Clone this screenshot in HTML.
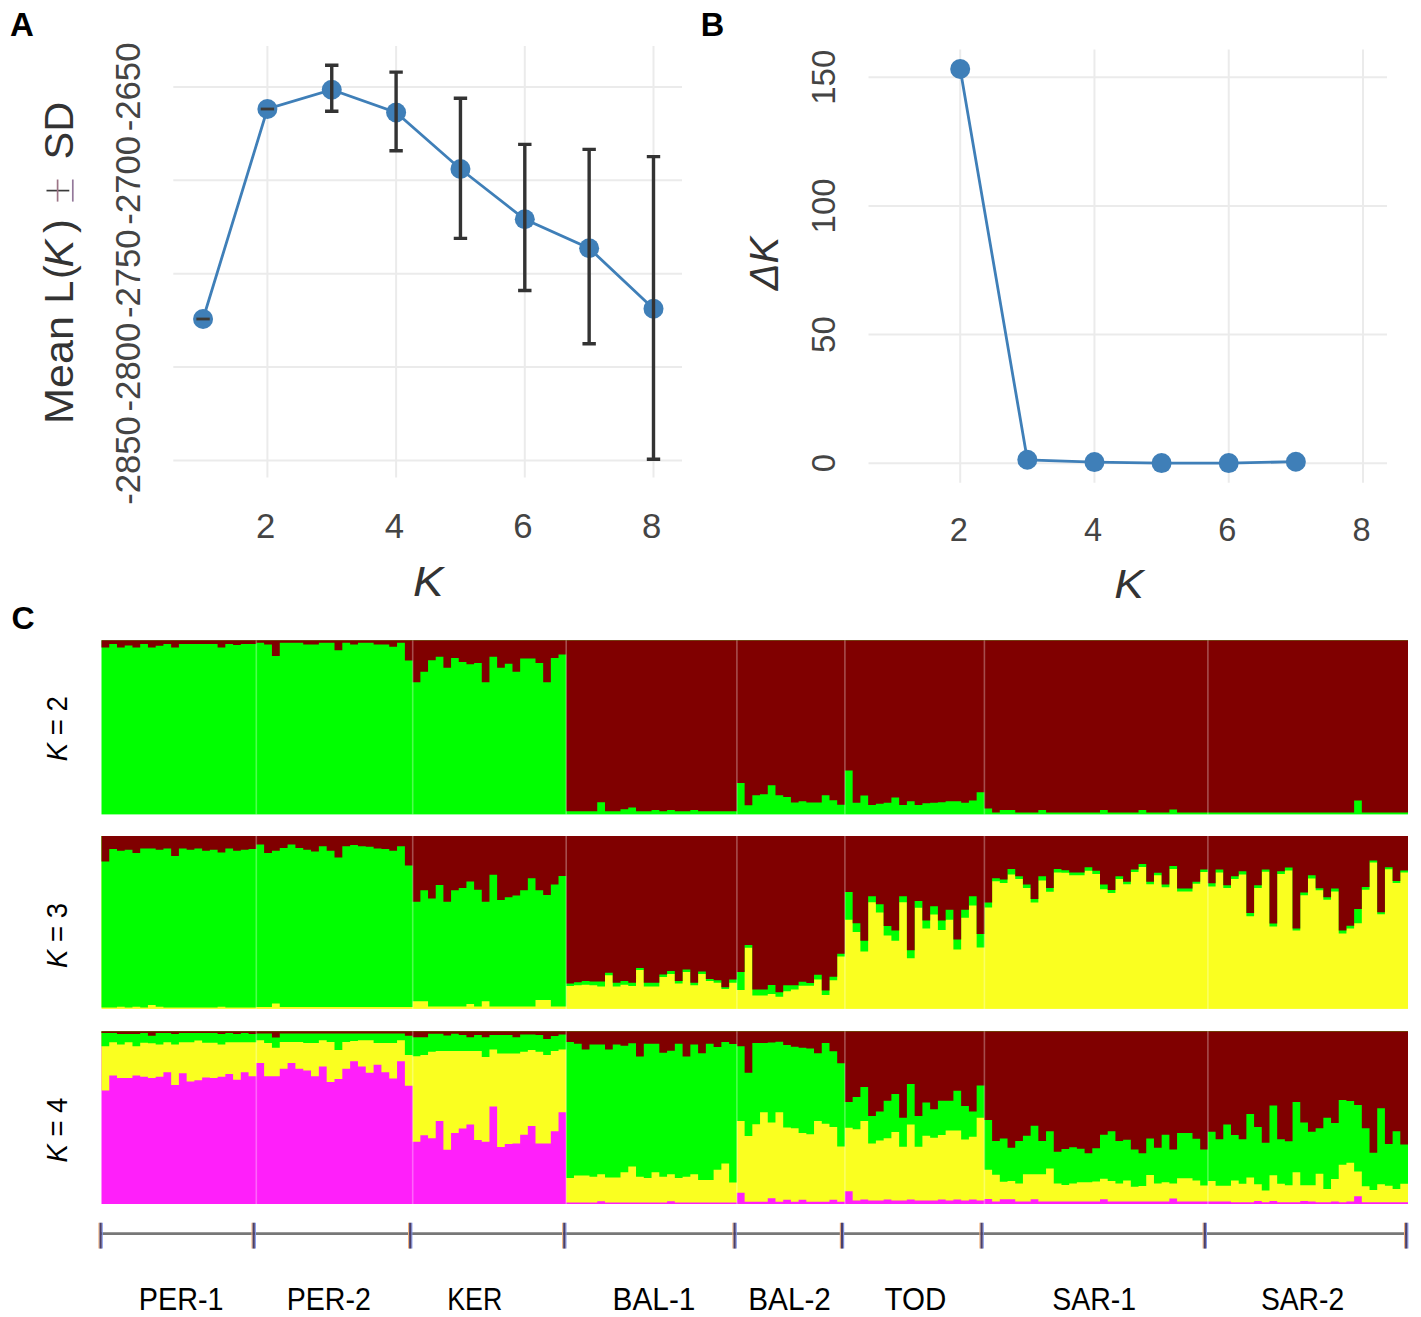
<!DOCTYPE html>
<html><head><meta charset="utf-8"><style>
html,body{margin:0;padding:0;background:#fff;}
body{width:1421px;height:1317px;overflow:hidden;font-family:"Liberation Sans",sans-serif;}
svg{display:block;}
</style></head><body>
<svg width="1421" height="1317" viewBox="0 0 1421 1317">
<rect width="1421" height="1317" fill="#fff"/>
<g font-family="Liberation Sans, sans-serif">
<text x="10" y="36.3" font-size="33" font-weight="bold" fill="#000">A</text>
<line x1="173.3" x2="682" y1="86.9" y2="86.9" stroke="#ebebeb" stroke-width="2"/>
<line x1="173.3" x2="682" y1="180.3" y2="180.3" stroke="#ebebeb" stroke-width="2"/>
<line x1="173.3" x2="682" y1="273.7" y2="273.7" stroke="#ebebeb" stroke-width="2"/>
<line x1="173.3" x2="682" y1="367.1" y2="367.1" stroke="#ebebeb" stroke-width="2"/>
<line x1="173.3" x2="682" y1="460.5" y2="460.5" stroke="#ebebeb" stroke-width="2"/>
<line x1="267.40" x2="267.40" y1="46" y2="477.5" stroke="#ebebeb" stroke-width="2"/>
<line x1="396.10" x2="396.10" y1="46" y2="477.5" stroke="#ebebeb" stroke-width="2"/>
<line x1="524.80" x2="524.80" y1="46" y2="477.5" stroke="#ebebeb" stroke-width="2"/>
<line x1="653.50" x2="653.50" y1="46" y2="477.5" stroke="#ebebeb" stroke-width="2"/>
<polyline fill="none" stroke="#3f7fb8" stroke-width="2.8" points="203.05,319 267.40,109 331.75,89.7 396.10,112.5 460.45,169 524.80,219.3 589.15,248.2 653.50,308.8"/>
<circle cx="203.05" cy="319" r="10" fill="#3f7fb8"/>
<circle cx="267.40" cy="109" r="10" fill="#3f7fb8"/>
<circle cx="331.75" cy="89.7" r="10" fill="#3f7fb8"/>
<circle cx="396.10" cy="112.5" r="10" fill="#3f7fb8"/>
<circle cx="460.45" cy="169" r="10" fill="#3f7fb8"/>
<circle cx="524.80" cy="219.3" r="10" fill="#3f7fb8"/>
<circle cx="589.15" cy="248.2" r="10" fill="#3f7fb8"/>
<circle cx="653.50" cy="308.8" r="10" fill="#3f7fb8"/>
<path d="M196.35,319H209.75" stroke="#3d3a36" stroke-width="2.8" fill="none"/>
<path d="M260.70,109H274.10" stroke="#3d3a36" stroke-width="2.8" fill="none"/>
<path d="M325.05,65.2H338.45M331.75,65.2V111.3M325.05,111.3H338.45" stroke="#333" stroke-width="3.4" fill="none"/>
<path d="M389.40,72.1H402.80M396.10,72.1V150.7M389.40,150.7H402.80" stroke="#333" stroke-width="3.4" fill="none"/>
<path d="M453.75,98.3H467.15M460.45,98.3V238.4M453.75,238.4H467.15" stroke="#333" stroke-width="3.4" fill="none"/>
<path d="M518.10,144.4H531.50M524.80,144.4V290.5M518.10,290.5H531.50" stroke="#333" stroke-width="3.4" fill="none"/>
<path d="M582.45,149.4H595.85M589.15,149.4V343.8M582.45,343.8H595.85" stroke="#333" stroke-width="3.4" fill="none"/>
<path d="M646.80,156.6H660.20M653.50,156.6V459.3M646.80,459.3H660.20" stroke="#333" stroke-width="3.4" fill="none"/>
<text x="265.60" y="538.4" font-size="34.7" fill="#444444" text-anchor="middle">2</text>
<text x="394.30" y="538.4" font-size="34.7" fill="#444444" text-anchor="middle">4</text>
<text x="523.00" y="538.4" font-size="34.7" fill="#444444" text-anchor="middle">6</text>
<text x="651.70" y="538.4" font-size="34.7" fill="#444444" text-anchor="middle">8</text>
<text transform="translate(139.7,86.9) rotate(-90)" font-size="34.7" fill="#444444" text-anchor="middle">-2650</text>
<text transform="translate(139.7,180.3) rotate(-90)" font-size="34.7" fill="#444444" text-anchor="middle">-2700</text>
<text transform="translate(139.7,273.7) rotate(-90)" font-size="34.7" fill="#444444" text-anchor="middle">-2750</text>
<text transform="translate(139.7,367.1) rotate(-90)" font-size="34.7" fill="#444444" text-anchor="middle">-2800</text>
<text transform="translate(139.7,460.5) rotate(-90)" font-size="34.7" fill="#444444" text-anchor="middle">-2850</text>
<text x="412.9" y="595.6" font-size="42.5" font-style="italic" fill="#333333" textLength="30.5" lengthAdjust="spacingAndGlyphs">K</text>
<text transform="translate(73.3,423.9) rotate(-90)" font-size="41.5" fill="#333333" textLength="107.9" lengthAdjust="spacingAndGlyphs">Mean</text>
<text transform="translate(73.3,303.7) rotate(-90)" font-size="41.5" fill="#333333">L</text>
<text transform="translate(73.3,279.0) rotate(-90)" font-size="41.5" fill="#333333">(</text>
<text transform="translate(73.3,267.6) rotate(-90)" font-size="41.5" fill="#333333" font-style="italic">K</text>
<text transform="translate(73.3,233.1) rotate(-90)" font-size="41.5" fill="#333333">)</text>
<path d="M46.5,190.6H69.3" stroke="#3a3a3a" stroke-width="1.7"/>
<path d="M57.6,179.5V201.6" stroke="#9c7486" stroke-width="1.7"/>
<path d="M72.8,179.5V201.6" stroke="#94789a" stroke-width="1.7"/>
<text transform="translate(73.3,159.5) rotate(-90)" font-size="41.5" fill="#333333">SD</text>
<text x="700.8" y="35.7" font-size="32.5" font-weight="bold" fill="#000">B</text>
<line x1="868.5" x2="1387" y1="463.20" y2="463.20" stroke="#ebebeb" stroke-width="2"/>
<line x1="868.5" x2="1387" y1="334.55" y2="334.55" stroke="#ebebeb" stroke-width="2"/>
<line x1="868.5" x2="1387" y1="205.90" y2="205.90" stroke="#ebebeb" stroke-width="2"/>
<line x1="868.5" x2="1387" y1="77.25" y2="77.25" stroke="#ebebeb" stroke-width="2"/>
<line x1="960.20" x2="960.20" y1="49.5" y2="482.8" stroke="#ebebeb" stroke-width="2"/>
<line x1="1094.46" x2="1094.46" y1="49.5" y2="482.8" stroke="#ebebeb" stroke-width="2"/>
<line x1="1228.72" x2="1228.72" y1="49.5" y2="482.8" stroke="#ebebeb" stroke-width="2"/>
<line x1="1362.98" x2="1362.98" y1="49.5" y2="482.8" stroke="#ebebeb" stroke-width="2"/>
<polyline fill="none" stroke="#3f7fb8" stroke-width="2.8" points="960.20,69 1027.33,459.8 1094.46,462.1 1161.59,463.1 1228.72,463.1 1295.85,461.7"/>
<circle cx="960.20" cy="69" r="10" fill="#3f7fb8"/>
<circle cx="1027.33" cy="459.8" r="10" fill="#3f7fb8"/>
<circle cx="1094.46" cy="462.1" r="10" fill="#3f7fb8"/>
<circle cx="1161.59" cy="463.1" r="10" fill="#3f7fb8"/>
<circle cx="1228.72" cy="463.1" r="10" fill="#3f7fb8"/>
<circle cx="1295.85" cy="461.7" r="10" fill="#3f7fb8"/>
<text x="958.70" y="541.2" font-size="32.5" fill="#444444" text-anchor="middle">2</text>
<text x="1092.96" y="541.2" font-size="32.5" fill="#444444" text-anchor="middle">4</text>
<text x="1227.22" y="541.2" font-size="32.5" fill="#444444" text-anchor="middle">6</text>
<text x="1361.48" y="541.2" font-size="32.5" fill="#444444" text-anchor="middle">8</text>
<text transform="translate(835,463.20) rotate(-90)" font-size="33" fill="#444444" text-anchor="middle">0</text>
<text transform="translate(835,334.55) rotate(-90)" font-size="33" fill="#444444" text-anchor="middle">50</text>
<text transform="translate(835,205.90) rotate(-90)" font-size="33" fill="#444444" text-anchor="middle">100</text>
<text transform="translate(835,77.25) rotate(-90)" font-size="33" fill="#444444" text-anchor="middle">150</text>
<text x="1114.2" y="597.9" font-size="41.5" font-style="italic" fill="#333333" textLength="29.6" lengthAdjust="spacingAndGlyphs">K</text>
<text transform="translate(778.3,290.3) rotate(-90)" font-size="40" font-style="italic" fill="#333333">ΔK</text>
</g>
<g font-family="Liberation Sans, sans-serif">
<text x="11.5" y="628.9" font-size="32" font-weight="bold" fill="#000">C</text>
<rect x="101.5" y="640.3" width="1306.50" height="174.10" fill="#00ff00"/>
<path d="M101.50,640.3V647.40H109.24V644.00H116.98V647.40H124.72V645.50H132.46V647.40H140.20V644.00H147.94V647.40H155.68V645.70H163.42V644.00H171.16V647.40H178.90V644.00H186.64V644.00H194.38V644.00H202.12V644.00H209.86V644.00H217.60V647.40H225.34V644.00H233.08V645.00H240.82V644.00H248.56V644.00H256.30V642.80H264.12V644.50H271.94V656.00H279.76V642.80H287.58V642.80H295.40V642.80H303.22V644.50H311.04V644.50H318.86V642.80H326.68V642.80H334.50V650.20H342.32V642.80H350.14V644.50H357.96V642.80H365.78V642.80H373.60V644.50H381.42V644.50H389.24V646.80H397.06V642.80H404.88V660.50H412.70V682.20H420.38V671.80H428.05V660.20H435.73V656.80H443.40V667.70H451.07V657.90H458.75V662.00H466.43V664.30H474.10V663.10H481.77V682.20H489.45V656.80H497.12V667.70H504.80V663.70H512.48V671.80H520.15V658.50H527.83V658.50H535.50V663.10H543.18V682.20H550.85V657.90H558.53V654.50H566.20V811.20H573.96V811.20H581.72V811.20H589.48V811.20H597.24V802.30H605.00V811.20H612.75V811.20H620.51V809.30H628.27V807.40H636.03V811.20H643.79V811.20H651.55V810.00H659.31V811.20H667.07V810.00H674.83V811.20H682.59V811.20H690.35V810.00H698.10V811.20H705.86V811.20H713.62V811.20H721.38V811.20H729.14V811.20H736.90V782.90H744.61V805.30H752.33V795.20H760.04V794.30H767.76V785.20H775.47V795.20H783.19V797.00H790.90V802.50H798.61V801.20H806.33V802.50H814.04V802.50H821.76V795.20H829.47V800.30H837.19V804.80H844.90V770.50H852.65V802.80H860.40V795.40H868.15V804.90H875.90V803.80H883.65V802.80H891.40V797.50H899.15V804.90H906.90V801.20H914.65V804.90H922.40V803.30H930.15V802.80H937.90V802.20H945.65V801.20H953.40V801.20H961.15V802.80H968.90V800.60H976.65V792.20H984.40V808.60H992.11V812.40H999.81V810.00H1007.52V810.00H1015.23V812.40H1022.93V812.40H1030.64V812.40H1038.35V810.00H1046.06V812.40H1053.76V812.40H1061.47V812.40H1069.18V812.40H1076.88V812.40H1084.59V812.40H1092.30V812.40H1100.00V810.00H1107.71V812.40H1115.42V812.40H1123.12V812.40H1130.83V812.40H1138.54V810.00H1146.24V812.40H1153.95V812.40H1161.66V812.40H1169.37V809.50H1177.07V812.40H1184.78V812.40H1192.49V812.40H1200.19V812.40H1207.90V812.40H1215.60V812.40H1223.29V812.40H1230.99V812.40H1238.68V812.40H1246.38V812.40H1254.08V812.40H1261.77V812.40H1269.47V812.40H1277.17V812.40H1284.86V812.40H1292.56V812.40H1300.25V812.40H1307.95V812.40H1315.65V812.40H1323.34V812.40H1331.04V812.40H1338.73V812.40H1346.43V812.40H1354.13V800.50H1361.82V812.40H1369.52V812.40H1377.22V812.40H1384.91V812.40H1392.61V812.40H1400.30V812.40H1408.00V640.3Z" fill="#800000"/>
<line x1="256.3" x2="256.3" y1="640.3" y2="814.4" stroke="#fff" stroke-opacity="0.3" stroke-width="1.6"/>
<line x1="412.7" x2="412.7" y1="640.3" y2="814.4" stroke="#fff" stroke-opacity="0.3" stroke-width="1.6"/>
<line x1="566.2" x2="566.2" y1="640.3" y2="814.4" stroke="#fff" stroke-opacity="0.3" stroke-width="1.6"/>
<line x1="736.9" x2="736.9" y1="640.3" y2="814.4" stroke="#fff" stroke-opacity="0.3" stroke-width="1.6"/>
<line x1="844.9" x2="844.9" y1="640.3" y2="814.4" stroke="#fff" stroke-opacity="0.3" stroke-width="1.6"/>
<line x1="984.4" x2="984.4" y1="640.3" y2="814.4" stroke="#fff" stroke-opacity="0.3" stroke-width="1.6"/>
<line x1="1207.9" x2="1207.9" y1="640.3" y2="814.4" stroke="#fff" stroke-opacity="0.3" stroke-width="1.6"/>
<rect x="101.5" y="836.0" width="1306.50" height="172.90" fill="#faff20"/>
<path d="M101.50,836.0V1007.60H109.24V1007.60H116.98V1006.70H124.72V1007.60H132.46V1006.70H140.20V1007.60H147.94V1005.00H155.68V1006.70H163.42V1007.60H171.16V1007.60H178.90V1007.60H186.64V1007.60H194.38V1007.60H202.12V1007.60H209.86V1007.60H217.60V1006.70H225.34V1007.60H233.08V1007.60H240.82V1007.60H248.56V1007.60H256.30V1007.10H264.12V1007.10H271.94V1003.40H279.76V1007.10H287.58V1007.10H295.40V1007.10H303.22V1007.10H311.04V1007.10H318.86V1007.10H326.68V1007.10H334.50V1007.10H342.32V1007.10H350.14V1007.10H357.96V1007.10H365.78V1007.10H373.60V1007.10H381.42V1007.10H389.24V1007.10H397.06V1007.10H404.88V1007.10H412.70V1001.20H420.38V1001.20H428.05V1006.60H435.73V1006.60H443.40V1006.60H451.07V1006.60H458.75V1006.60H466.43V1003.90H474.10V1006.60H481.77V1001.20H489.45V1006.60H497.12V1006.60H504.80V1006.60H512.48V1006.60H520.15V1006.60H527.83V1006.60H535.50V1000.00H543.18V1000.00H550.85V1006.60H558.53V1006.60H566.20V986.00H573.96V985.30H581.72V984.70H589.48V985.30H597.24V986.60H605.00V975.20H612.75V986.60H620.51V984.70H628.27V986.00H636.03V970.10H643.79V986.60H651.55V986.60H659.31V977.10H667.07V973.90H674.83V983.40H682.59V972.00H690.35V985.30H698.10V973.90H705.86V980.90H713.62V982.80H721.38V989.10H729.14V982.80H736.90V989.90H744.61V947.80H752.33V995.40H760.04V995.40H767.76V994.00H775.47V996.80H783.19V991.30H790.90V989.50H798.61V985.80H806.33V985.80H814.04V979.40H821.76V995.00H829.47V980.30H837.19V956.50H844.90V919.80H852.65V932.00H860.40V951.60H868.15V902.30H875.90V912.40H883.65V935.40H891.40V940.80H899.15V902.30H906.90V958.30H914.65V907.70H922.40V928.60H930.15V914.40H937.90V930.00H945.65V919.80H953.40V949.60H961.15V917.80H968.90V905.60H976.65V947.50H984.40V907.40H992.11V881.20H999.81V882.90H1007.52V874.50H1015.23V879.10H1022.93V888.00H1030.64V902.40H1038.35V880.40H1046.06V891.80H1053.76V872.40H1061.47V872.80H1069.18V875.30H1076.88V875.30H1084.59V870.70H1092.30V874.10H1100.00V889.30H1107.71V893.10H1115.42V879.10H1123.12V884.20H1130.83V872.00H1138.54V866.90H1146.24V884.20H1153.95V875.30H1161.66V887.20H1169.37V869.00H1177.07V891.40H1184.78V891.40H1192.49V883.80H1200.19V872.00H1207.90V886.40H1215.60V872.40H1223.29V887.90H1230.99V879.00H1238.68V874.40H1246.38V916.20H1254.08V887.90H1261.77V871.70H1269.47V926.60H1277.17V874.00H1284.86V870.50H1292.56V930.50H1300.25V895.30H1307.95V878.40H1315.65V890.20H1323.34V899.70H1331.04V891.40H1338.73V933.50H1346.43V928.40H1354.13V923.30H1361.82V889.80H1369.52V862.60H1377.22V914.20H1384.91V869.30H1392.61V883.10H1400.30V872.50H1408.00V836.0Z" fill="#00ff00"/>
<path d="M101.50,836.0V861.60H109.24V849.10H116.98V850.80H124.72V849.70H132.46V853.10H140.20V848.50H147.94V848.50H155.68V849.70H163.42V848.50H171.16V855.90H178.90V848.50H186.64V849.70H194.38V848.50H202.12V850.80H209.86V849.70H217.60V852.50H225.34V848.50H233.08V850.80H240.82V849.70H248.56V849.10H256.30V844.50H264.12V853.10H271.94V850.80H279.76V848.00H287.58V844.50H295.40V848.00H303.22V849.70H311.04V851.40H318.86V846.20H326.68V850.80H334.50V857.60H342.32V846.20H350.14V845.10H357.96V846.20H365.78V846.80H373.60V848.50H381.42V849.10H389.24V850.80H397.06V846.20H404.88V865.60H412.70V901.80H420.38V890.30H428.05V898.40H435.73V885.10H443.40V901.80H451.07V890.30H458.75V888.00H466.43V881.60H474.10V889.70H481.77V901.80H489.45V874.70H497.12V900.10H504.80V897.20H512.48V895.50H520.15V890.30H527.83V878.20H535.50V890.30H543.18V894.90H550.85V884.50H558.53V875.90H566.20V983.40H573.96V982.20H581.72V980.90H589.48V981.50H597.24V981.50H605.00V972.70H612.75V982.80H620.51V980.90H628.27V982.80H636.03V967.90H643.79V982.80H651.55V982.80H659.31V974.60H667.07V971.10H674.83V980.90H682.59V969.50H690.35V982.80H698.10V971.40H705.86V979.00H713.62V980.30H721.38V987.20H729.14V979.60H736.90V972.10H744.61V945.10H752.33V989.50H760.04V989.50H767.76V984.90H775.47V992.20H783.19V985.30H790.90V985.30H798.61V981.70H806.33V983.10H814.04V974.80H821.76V990.40H829.47V976.70H837.19V953.80H844.90V892.10H852.65V923.20H860.40V940.80H868.15V896.20H875.90V904.30H883.65V925.90H891.40V930.60H899.15V896.20H906.90V950.20H914.65V900.90H922.40V920.50H930.15V906.30H937.90V920.50H945.65V909.70H953.40V939.40H961.15V909.70H968.90V896.20H976.65V934.00H984.40V902.40H992.11V878.30H999.81V879.60H1007.52V869.00H1015.23V876.20H1022.93V884.60H1030.64V899.00H1038.35V876.20H1046.06V888.00H1053.76V869.00H1061.47V870.30H1069.18V872.40H1076.88V872.40H1084.59V867.30H1092.30V870.70H1100.00V884.60H1107.71V890.10H1115.42V876.20H1123.12V881.70H1130.83V869.40H1138.54V863.90H1146.24V881.70H1153.95V872.80H1161.66V884.60H1169.37V866.00H1177.07V888.40H1184.78V888.40H1192.49V881.70H1200.19V869.40H1207.90V883.30H1215.60V869.40H1223.29V885.20H1230.99V876.30H1238.68V871.30H1246.38V913.10H1254.08V885.20H1261.77V869.40H1269.47V923.50H1277.17V871.30H1284.86V867.40H1292.56V928.60H1300.25V892.40H1307.95V875.20H1315.65V888.20H1323.34V897.30H1331.04V888.60H1338.73V930.40H1346.43V925.70H1354.13V909.10H1361.82V887.00H1369.52V860.60H1377.22V912.30H1384.91V867.30H1392.61V881.10H1400.30V870.50H1408.00V836.0Z" fill="#800000"/>
<line x1="256.3" x2="256.3" y1="836.0" y2="1008.9" stroke="#fff" stroke-opacity="0.3" stroke-width="1.6"/>
<line x1="412.7" x2="412.7" y1="836.0" y2="1008.9" stroke="#fff" stroke-opacity="0.3" stroke-width="1.6"/>
<line x1="566.2" x2="566.2" y1="836.0" y2="1008.9" stroke="#fff" stroke-opacity="0.3" stroke-width="1.6"/>
<line x1="736.9" x2="736.9" y1="836.0" y2="1008.9" stroke="#fff" stroke-opacity="0.3" stroke-width="1.6"/>
<line x1="844.9" x2="844.9" y1="836.0" y2="1008.9" stroke="#fff" stroke-opacity="0.3" stroke-width="1.6"/>
<line x1="984.4" x2="984.4" y1="836.0" y2="1008.9" stroke="#fff" stroke-opacity="0.3" stroke-width="1.6"/>
<line x1="1207.9" x2="1207.9" y1="836.0" y2="1008.9" stroke="#fff" stroke-opacity="0.3" stroke-width="1.6"/>
<rect x="101.5" y="1031.2" width="1306.50" height="172.80" fill="#ff1ffa"/>
<path d="M101.50,1031.2V1090.60H109.24V1075.60H116.98V1077.90H124.72V1077.90H132.46V1075.60H140.20V1076.80H147.94V1077.90H155.68V1076.80H163.42V1072.20H171.16V1084.90H178.90V1073.30H186.64V1081.40H194.38V1080.20H202.12V1077.40H209.86V1077.90H217.60V1076.80H225.34V1073.90H233.08V1079.70H240.82V1072.20H248.56V1076.20H256.30V1063.00H264.12V1076.20H271.94V1076.20H279.76V1068.80H287.58V1063.00H295.40V1068.80H303.22V1070.50H311.04V1076.20H318.86V1066.50H326.68V1081.90H334.50V1079.00H342.32V1068.80H350.14V1061.30H357.96V1066.50H365.78V1072.70H373.60V1064.80H381.42V1072.20H389.24V1078.40H397.06V1061.30H404.88V1085.80H412.70V1141.70H420.38V1135.30H428.05V1138.20H435.73V1120.90H443.40V1149.80H451.07V1133.00H458.75V1128.40H466.43V1124.40H474.10V1140.00H481.77V1141.70H489.45V1106.50H497.12V1146.90H504.80V1144.00H512.48V1143.40H520.15V1134.80H527.83V1126.10H535.50V1143.40H543.18V1143.40H550.85V1131.30H558.53V1112.20H566.20V1202.60H573.96V1202.60H581.72V1202.60H589.48V1202.60H597.24V1201.20H605.00V1202.60H612.75V1202.60H620.51V1202.60H628.27V1202.60H636.03V1202.60H643.79V1202.60H651.55V1202.60H659.31V1202.60H667.07V1201.20H674.83V1202.60H682.59V1202.60H690.35V1202.60H698.10V1202.60H705.86V1202.60H713.62V1202.60H721.38V1202.60H729.14V1202.60H736.90V1192.80H744.61V1201.80H752.33V1201.80H760.04V1201.80H767.76V1198.30H775.47V1201.80H783.19V1199.70H790.90V1201.80H798.61V1199.70H806.33V1201.80H814.04V1201.80H821.76V1201.80H829.47V1199.70H837.19V1201.80H844.90V1191.20H852.65V1200.60H860.40V1199.40H868.15V1200.60H875.90V1200.60H883.65V1199.40H891.40V1200.60H899.15V1200.60H906.90V1199.40H914.65V1200.60H922.40V1200.60H930.15V1200.60H937.90V1199.40H945.65V1200.60H953.40V1199.40H961.15V1200.60H968.90V1199.40H976.65V1200.60H984.40V1198.90H992.11V1201.50H999.81V1199.30H1007.52V1199.30H1015.23V1201.50H1022.93V1201.50H1030.64V1199.30H1038.35V1201.50H1046.06V1201.50H1053.76V1201.50H1061.47V1201.50H1069.18V1201.50H1076.88V1201.50H1084.59V1201.50H1092.30V1201.50H1100.00V1199.30H1107.71V1201.50H1115.42V1201.50H1123.12V1201.50H1130.83V1201.50H1138.54V1201.50H1146.24V1201.50H1153.95V1201.50H1161.66V1201.50H1169.37V1198.40H1177.07V1201.50H1184.78V1201.50H1192.49V1201.50H1200.19V1201.50H1207.90V1201.50H1215.60V1201.50H1223.29V1201.50H1230.99V1202.30H1238.68V1202.30H1246.38V1202.30H1254.08V1201.00H1261.77V1202.30H1269.47V1201.00H1277.17V1202.30H1284.86V1202.30H1292.56V1202.30H1300.25V1201.00H1307.95V1201.50H1315.65V1202.30H1323.34V1202.30H1331.04V1201.50H1338.73V1202.30H1346.43V1201.50H1354.13V1196.30H1361.82V1202.30H1369.52V1202.30H1377.22V1202.30H1384.91V1202.30H1392.61V1202.30H1400.30V1202.30H1408.00V1031.2Z" fill="#faff20"/>
<path d="M101.50,1031.2V1046.20H109.24V1042.20H116.98V1044.50H124.72V1042.20H132.46V1046.20H140.20V1042.70H147.94V1043.30H155.68V1044.50H163.42V1042.20H171.16V1044.50H178.90V1042.20H186.64V1042.20H194.38V1040.40H202.12V1042.70H209.86V1042.70H217.60V1044.50H225.34V1042.20H233.08V1042.20H240.82V1042.20H248.56V1042.20H256.30V1040.30H264.12V1043.10H271.94V1047.70H279.76V1042.00H287.58V1042.00H295.40V1042.00H303.22V1043.10H311.04V1043.10H318.86V1040.30H326.68V1042.00H334.50V1049.90H342.32V1042.00H350.14V1041.00H357.96V1040.30H365.78V1040.30H373.60V1043.10H381.42V1043.10H389.24V1043.10H397.06V1040.30H404.88V1055.10H412.70V1056.30H420.38V1055.10H428.05V1051.70H435.73V1051.10H443.40V1051.10H451.07V1051.10H458.75V1051.10H466.43V1051.10H474.10V1051.10H481.77V1056.90H489.45V1049.40H497.12V1053.40H504.80V1053.40H512.48V1053.40H520.15V1051.70H527.83V1049.90H535.50V1051.70H543.18V1055.10H550.85V1051.10H558.53V1049.40H566.20V1178.00H573.96V1175.50H581.72V1175.50H589.48V1176.70H597.24V1174.20H605.00V1177.40H612.75V1177.40H620.51V1172.30H628.27V1166.60H636.03V1176.70H643.79V1178.00H651.55V1172.30H659.31V1176.70H667.07V1174.20H674.83V1178.00H682.59V1176.70H690.35V1174.20H698.10V1179.90H705.86V1179.90H713.62V1169.80H721.38V1163.40H729.14V1182.40H736.90V1121.00H744.61V1136.10H752.33V1124.20H760.04V1112.30H767.76V1122.40H775.47V1112.30H783.19V1127.40H790.90V1128.30H798.61V1132.90H806.33V1134.20H814.04V1121.00H821.76V1123.70H829.47V1126.90H837.19V1146.60H844.90V1127.80H852.65V1129.30H860.40V1120.90H868.15V1143.60H875.90V1140.40H883.65V1138.30H891.40V1132.00H899.15V1146.80H906.90V1124.60H914.65V1146.80H922.40V1135.70H930.15V1137.80H937.90V1135.10H945.65V1130.40H953.40V1130.40H961.15V1139.40H968.90V1136.70H976.65V1117.70H984.40V1169.70H992.11V1174.70H999.81V1181.80H1007.52V1181.00H1015.23V1183.60H1022.93V1174.20H1030.64V1174.20H1038.35V1174.20H1046.06V1168.40H1053.76V1183.60H1061.47V1185.00H1069.18V1183.60H1076.88V1182.30H1084.59V1182.30H1092.30V1181.40H1100.00V1178.70H1107.71V1181.00H1115.42V1183.60H1123.12V1180.50H1130.83V1186.80H1138.54V1185.90H1146.24V1175.10H1153.95V1183.60H1161.66V1182.30H1169.37V1183.60H1177.07V1178.30H1184.78V1178.30H1192.49V1180.50H1200.19V1185.40H1207.90V1181.10H1215.60V1185.80H1223.29V1185.80H1230.99V1180.60H1238.68V1183.70H1246.38V1177.40H1254.08V1184.20H1261.77V1190.50H1269.47V1175.30H1277.17V1183.70H1284.86V1185.30H1292.56V1172.20H1300.25V1185.30H1307.95V1185.30H1315.65V1173.70H1323.34V1188.90H1331.04V1179.00H1338.73V1164.80H1346.43V1162.70H1354.13V1171.60H1361.82V1186.30H1369.52V1190.00H1377.22V1184.20H1384.91V1185.80H1392.61V1188.90H1400.30V1183.70H1408.00V1031.2Z" fill="#00ff00"/>
<path d="M101.50,1031.2V1032.90H109.24V1032.90H116.98V1034.10H124.72V1034.10H132.46V1034.10H140.20V1032.90H147.94V1035.80H155.68V1032.90H163.42V1032.90H171.16V1034.10H178.90V1032.90H186.64V1032.90H194.38V1032.90H202.12V1032.90H209.86V1032.90H217.60V1034.10H225.34V1032.90H233.08V1034.10H240.82V1032.90H248.56V1034.10H256.30V1033.40H264.12V1033.40H271.94V1037.40H279.76V1033.40H287.58V1033.40H295.40V1033.40H303.22V1033.40H311.04V1033.40H318.86V1033.40H326.68V1033.40H334.50V1033.40H342.32V1033.40H350.14V1033.40H357.96V1033.40H365.78V1033.40H373.60V1033.40H381.42V1033.40H389.24V1033.40H397.06V1033.40H404.88V1035.70H412.70V1037.20H420.38V1037.20H428.05V1033.80H435.73V1033.80H443.40V1035.50H451.07V1033.80H458.75V1034.90H466.43V1037.20H474.10V1034.90H481.77V1037.20H489.45V1034.90H497.12V1034.90H504.80V1034.90H512.48V1037.20H520.15V1034.40H527.83V1034.40H535.50V1034.90H543.18V1039.00H550.85V1036.00H558.53V1034.40H566.20V1041.90H573.96V1043.80H581.72V1049.50H589.48V1044.50H597.24V1044.50H605.00V1049.50H612.75V1044.50H620.51V1045.70H628.27V1043.20H636.03V1056.50H643.79V1043.80H651.55V1043.80H659.31V1052.70H667.07V1050.80H674.83V1043.80H682.59V1056.50H690.35V1044.50H698.10V1053.30H705.86V1043.80H713.62V1047.00H721.38V1041.90H729.14V1044.00H736.90V1046.30H744.61V1072.80H752.33V1043.10H760.04V1043.10H767.76V1042.60H775.47V1041.70H783.19V1044.90H790.90V1046.80H798.61V1047.70H806.33V1048.60H814.04V1053.20H821.76V1043.10H829.47V1051.30H837.19V1063.20H844.90V1101.90H852.65V1097.10H860.40V1087.10H868.15V1116.10H875.90V1111.40H883.65V1100.80H891.40V1094.00H899.15V1117.70H906.90V1084.00H914.65V1116.10H922.40V1102.40H930.15V1109.30H937.90V1100.80H945.65V1100.80H953.40V1090.80H961.15V1106.10H968.90V1111.40H976.65V1085.50H984.40V1120.00H992.11V1141.10H999.81V1138.40H1007.52V1147.80H1015.23V1141.10H1022.93V1135.70H1030.64V1125.80H1038.35V1141.10H1046.06V1131.20H1053.76V1151.80H1061.47V1149.10H1069.18V1147.30H1076.88V1148.70H1084.59V1153.20H1092.30V1148.20H1100.00V1134.80H1107.71V1131.20H1115.42V1141.10H1123.12V1139.70H1130.83V1149.60H1138.54V1153.20H1146.24V1138.40H1153.95V1147.80H1161.66V1134.80H1169.37V1149.60H1177.07V1133.00H1184.78V1133.00H1192.49V1138.80H1200.19V1149.60H1207.90V1131.80H1215.60V1139.20H1223.29V1124.50H1230.99V1135.00H1238.68V1139.20H1246.38V1114.00H1254.08V1127.10H1261.77V1142.80H1269.47V1105.60H1277.17V1139.20H1284.86V1141.30H1292.56V1102.00H1300.25V1122.40H1307.95V1131.80H1315.65V1128.20H1323.34V1117.70H1331.04V1122.90H1338.73V1099.90H1346.43V1100.90H1354.13V1105.10H1361.82V1128.20H1369.52V1152.80H1377.22V1108.20H1384.91V1143.90H1392.61V1131.30H1400.30V1144.40H1408.00V1031.2Z" fill="#800000"/>
<line x1="256.3" x2="256.3" y1="1031.2" y2="1204.0" stroke="#fff" stroke-opacity="0.3" stroke-width="1.6"/>
<line x1="412.7" x2="412.7" y1="1031.2" y2="1204.0" stroke="#fff" stroke-opacity="0.3" stroke-width="1.6"/>
<line x1="566.2" x2="566.2" y1="1031.2" y2="1204.0" stroke="#fff" stroke-opacity="0.3" stroke-width="1.6"/>
<line x1="736.9" x2="736.9" y1="1031.2" y2="1204.0" stroke="#fff" stroke-opacity="0.3" stroke-width="1.6"/>
<line x1="844.9" x2="844.9" y1="1031.2" y2="1204.0" stroke="#fff" stroke-opacity="0.3" stroke-width="1.6"/>
<line x1="984.4" x2="984.4" y1="1031.2" y2="1204.0" stroke="#fff" stroke-opacity="0.3" stroke-width="1.6"/>
<line x1="1207.9" x2="1207.9" y1="1031.2" y2="1204.0" stroke="#fff" stroke-opacity="0.3" stroke-width="1.6"/>
<text transform="translate(66.8,761.3) rotate(-90)" font-size="30" fill="#000" textLength="65" lengthAdjust="spacingAndGlyphs"><tspan font-style="italic">K</tspan> = 2</text>
<text transform="translate(66.8,968.0) rotate(-90)" font-size="30" fill="#000" textLength="65" lengthAdjust="spacingAndGlyphs"><tspan font-style="italic">K</tspan> = 3</text>
<text transform="translate(66.8,1162.6) rotate(-90)" font-size="30" fill="#000" textLength="65" lengthAdjust="spacingAndGlyphs"><tspan font-style="italic">K</tspan> = 4</text>
<line x1="100.6" x2="1406.2" y1="1233.6" y2="1233.6" stroke="#777" stroke-width="2.6"/>
<line x1="99.0" x2="99.0" y1="1222.7" y2="1248.6" stroke="#f2b27a" stroke-width="1.2"/>
<line x1="102.19999999999999" x2="102.19999999999999" y1="1222.7" y2="1248.6" stroke="#7f98ea" stroke-width="1.2"/>
<line x1="100.6" x2="100.6" y1="1222.7" y2="1248.6" stroke="#4b3f6a" stroke-width="2.2"/>
<line x1="252.1" x2="252.1" y1="1222.7" y2="1248.6" stroke="#f2b27a" stroke-width="1.2"/>
<line x1="255.29999999999998" x2="255.29999999999998" y1="1222.7" y2="1248.6" stroke="#7f98ea" stroke-width="1.2"/>
<line x1="253.7" x2="253.7" y1="1222.7" y2="1248.6" stroke="#4b3f6a" stroke-width="2.2"/>
<line x1="408.59999999999997" x2="408.59999999999997" y1="1222.7" y2="1248.6" stroke="#f2b27a" stroke-width="1.2"/>
<line x1="411.8" x2="411.8" y1="1222.7" y2="1248.6" stroke="#7f98ea" stroke-width="1.2"/>
<line x1="410.2" x2="410.2" y1="1222.7" y2="1248.6" stroke="#4b3f6a" stroke-width="2.2"/>
<line x1="562.6999999999999" x2="562.6999999999999" y1="1222.7" y2="1248.6" stroke="#f2b27a" stroke-width="1.2"/>
<line x1="565.9" x2="565.9" y1="1222.7" y2="1248.6" stroke="#7f98ea" stroke-width="1.2"/>
<line x1="564.3" x2="564.3" y1="1222.7" y2="1248.6" stroke="#4b3f6a" stroke-width="2.2"/>
<line x1="733.0" x2="733.0" y1="1222.7" y2="1248.6" stroke="#f2b27a" stroke-width="1.2"/>
<line x1="736.2" x2="736.2" y1="1222.7" y2="1248.6" stroke="#7f98ea" stroke-width="1.2"/>
<line x1="734.6" x2="734.6" y1="1222.7" y2="1248.6" stroke="#4b3f6a" stroke-width="2.2"/>
<line x1="840.4" x2="840.4" y1="1222.7" y2="1248.6" stroke="#f2b27a" stroke-width="1.2"/>
<line x1="843.6" x2="843.6" y1="1222.7" y2="1248.6" stroke="#7f98ea" stroke-width="1.2"/>
<line x1="842" x2="842" y1="1222.7" y2="1248.6" stroke="#4b3f6a" stroke-width="2.2"/>
<line x1="980.0" x2="980.0" y1="1222.7" y2="1248.6" stroke="#f2b27a" stroke-width="1.2"/>
<line x1="983.2" x2="983.2" y1="1222.7" y2="1248.6" stroke="#7f98ea" stroke-width="1.2"/>
<line x1="981.6" x2="981.6" y1="1222.7" y2="1248.6" stroke="#4b3f6a" stroke-width="2.2"/>
<line x1="1203.2" x2="1203.2" y1="1222.7" y2="1248.6" stroke="#f2b27a" stroke-width="1.2"/>
<line x1="1206.3999999999999" x2="1206.3999999999999" y1="1222.7" y2="1248.6" stroke="#7f98ea" stroke-width="1.2"/>
<line x1="1204.8" x2="1204.8" y1="1222.7" y2="1248.6" stroke="#4b3f6a" stroke-width="2.2"/>
<line x1="1404.6000000000001" x2="1404.6000000000001" y1="1222.7" y2="1248.6" stroke="#f2b27a" stroke-width="1.2"/>
<line x1="1407.8" x2="1407.8" y1="1222.7" y2="1248.6" stroke="#7f98ea" stroke-width="1.2"/>
<line x1="1406.2" x2="1406.2" y1="1222.7" y2="1248.6" stroke="#4b3f6a" stroke-width="2.2"/>
<text x="138.84" y="1309.8" font-size="30.5" fill="#000" textLength="84.67" lengthAdjust="spacingAndGlyphs">PER-1</text>
<text x="286.76" y="1309.8" font-size="30.5" fill="#000" textLength="84.17" lengthAdjust="spacingAndGlyphs">PER-2</text>
<text x="447.20" y="1309.8" font-size="30.5" fill="#000" textLength="55.05" lengthAdjust="spacingAndGlyphs">KER</text>
<text x="612.55" y="1309.8" font-size="30.5" fill="#000" textLength="82.91" lengthAdjust="spacingAndGlyphs">BAL-1</text>
<text x="748.26" y="1309.8" font-size="30.5" fill="#000" textLength="82.62" lengthAdjust="spacingAndGlyphs">BAL-2</text>
<text x="884.55" y="1309.8" font-size="30.5" fill="#000" textLength="61.87" lengthAdjust="spacingAndGlyphs">TOD</text>
<text x="1052.29" y="1309.8" font-size="30.5" fill="#000" textLength="83.91" lengthAdjust="spacingAndGlyphs">SAR-1</text>
<text x="1260.90" y="1309.8" font-size="30.5" fill="#000" textLength="83.32" lengthAdjust="spacingAndGlyphs">SAR-2</text>
</g>
</svg>
</body></html>
